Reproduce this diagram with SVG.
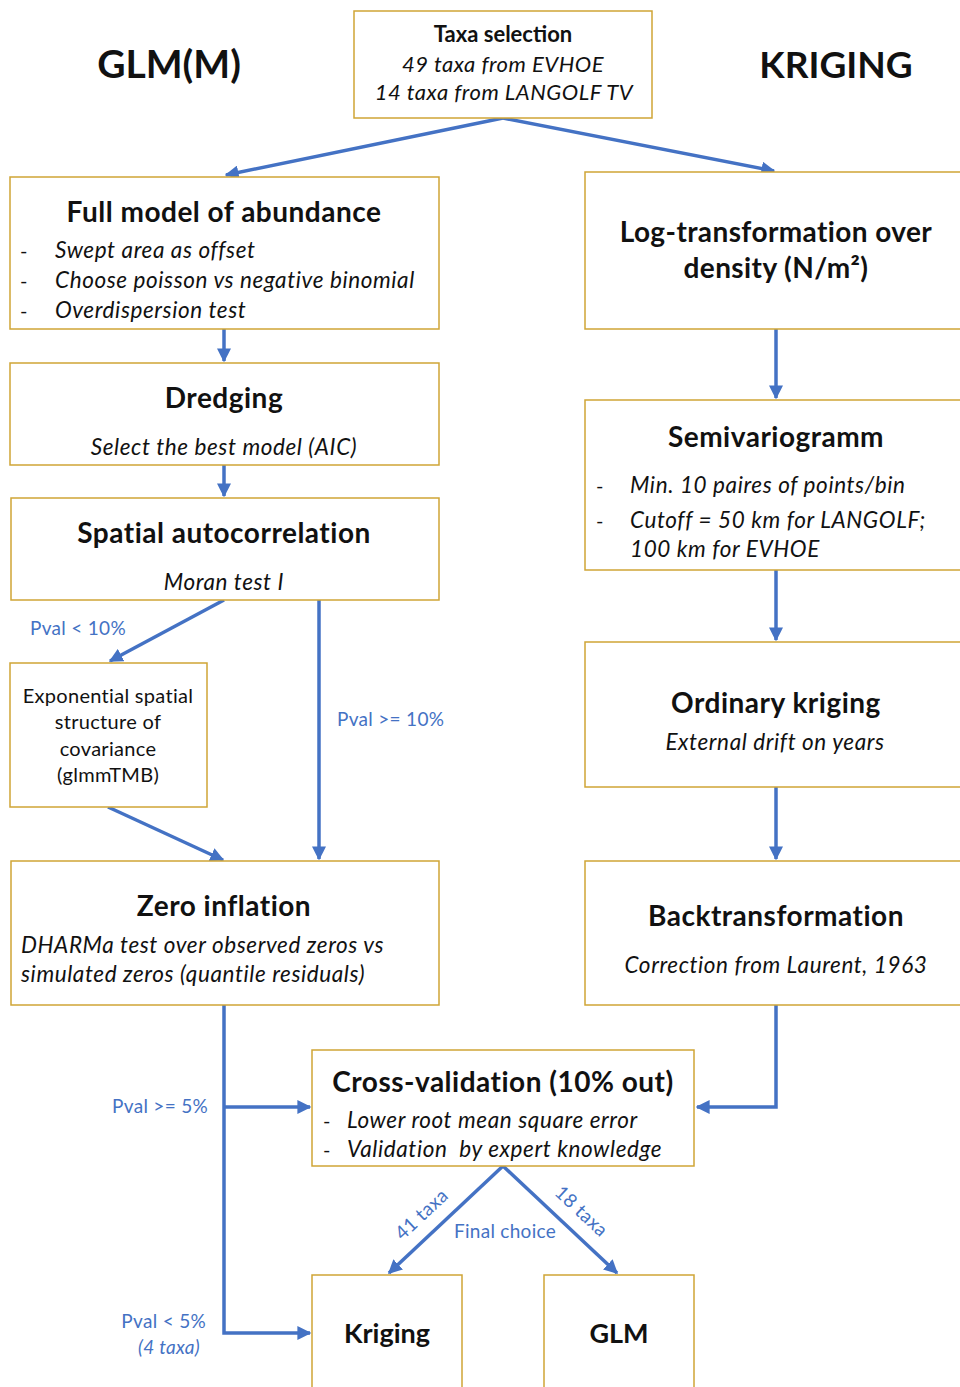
<svg xmlns="http://www.w3.org/2000/svg" width="960" height="1387" viewBox="0 0 960 1387">
<style>
.box{fill:#fff;stroke:#CFA536;stroke-width:1.5}
.t{font-family:Lato,"Open Sans",sans-serif;fill:#111}
.b{font-weight:bold}
.i{font-style:italic}
.c{text-anchor:middle}
.e{text-anchor:end}
.tt{font-size:28px;letter-spacing:0.5px}
.ti{font-size:22.5px;letter-spacing:0.6px}
.d{font-size:20px}
.lbl{font-family:Lato,"Open Sans",sans-serif;fill:#4472C4;font-size:19px;letter-spacing:0.3px}
.con{stroke:#4472C4;stroke-width:3.5;fill:none}
</style>
<defs>
<marker id="ah" viewBox="0 0 10 10" refX="9" refY="5" markerWidth="4" markerHeight="4" orient="auto" markerUnits="strokeWidth">
<path d="M0,0 L10,5 L0,10 z" fill="#4472C4"/>
</marker>
</defs>
<rect width="960" height="1387" fill="#fff"/>
<g id="headers">
<text class="t b c" x="169" y="78" font-size="39">GLM(M)</text>
<text class="t b c" x="836" y="78" font-size="37">KRIGING</text>
</g>
<g id="connectors">
<path class="con" d="M503,118 L226,175" marker-end="url(#ah)"/>
<path class="con" d="M503,118 L774,171" marker-end="url(#ah)"/>
<path class="con" d="M224,329 L224,361" marker-end="url(#ah)"/>
<path class="con" d="M224,465 L224,496" marker-end="url(#ah)"/>
<path class="con" d="M224,600 L110,661" marker-end="url(#ah)"/>
<path class="con" d="M319,600 L319,859" marker-end="url(#ah)"/>
<path class="con" d="M108,807 L223,860" marker-end="url(#ah)"/>
<path class="con" d="M776,329 L776,398" marker-end="url(#ah)"/>
<path class="con" d="M776,570 L776,640" marker-end="url(#ah)"/>
<path class="con" d="M776,787 L776,859" marker-end="url(#ah)"/>
<path class="con" d="M776,1005 L776,1107 L697,1107" marker-end="url(#ah)"/>
<path class="con" d="M224,1005 L224,1333 L310,1333" marker-end="url(#ah)"/>
<path class="con" d="M224,1107 L310,1107" marker-end="url(#ah)"/>
<path class="con" d="M503,1166 L389,1273" marker-end="url(#ah)"/>
<path class="con" d="M503,1166 L617,1273" marker-end="url(#ah)"/>
<text class="lbl" x="30" y="635">Pval &lt; 10%</text>
<text class="lbl" x="337" y="726">Pval &gt;= 10%</text>
<text class="lbl e" x="208" y="1113">Pval &gt;= 5%</text>
<text class="lbl e" x="206" y="1328">Pval &lt; 5%</text>
<text class="lbl e i" x="200" y="1354" font-size="20">(4 taxa)</text>
<text class="lbl c" x="505" y="1238">Final choice</text>
<text class="lbl c" transform="translate(426,1219) rotate(-43)">41 taxa</text>
<text class="lbl c" transform="translate(577,1216) rotate(43)">18 taxa</text>
</g>
<g id="taxa">
<rect class="box" x="354" y="11" width="298" height="107"/>
<text class="t b c" x="503" y="42" font-size="22">Taxa selection</text>
<text class="t i c" x="503" y="72" font-size="22" letter-spacing="0.5">49 taxa from EVHOE</text>
<text class="t i c" x="504" y="100" font-size="22" letter-spacing="0.5">14 taxa from LANGOLF TV</text>
</g>
<g id="fullmodel">
<rect class="box" x="10" y="177" width="429" height="152"/>
<text class="t b c tt" x="224" y="222">Full model of abundance</text>
<text class="t d" x="20" y="258">-</text>
<text class="t i ti" x="55" y="258">Swept area as offset</text>
<text class="t d" x="20" y="288">-</text>
<text class="t i ti" x="55" y="288">Choose poisson vs negative binomial</text>
<text class="t d" x="20" y="318">-</text>
<text class="t i ti" x="55" y="318">Overdispersion test</text>
</g>
<g id="dredging">
<rect class="box" x="10" y="363" width="429" height="102"/>
<text class="t b c tt" x="224" y="408">Dredging</text>
<text class="t i c ti" x="224" y="455">Select the best model (AIC)</text>
</g>
<g id="spatial">
<rect class="box" x="11" y="498" width="428" height="102"/>
<text class="t b c tt" x="224" y="543">Spatial autocorrelation</text>
<text class="t i c ti" x="224" y="590">Moran test I</text>
</g>
<g id="exponential">
<rect class="box" x="10" y="663" width="197" height="144"/>
<text class="t c" x="108" y="703" font-size="20" letter-spacing="0.3">Exponential spatial</text>
<text class="t c" x="108" y="729" font-size="20" letter-spacing="0.3">structure of</text>
<text class="t c" x="108" y="756" font-size="20" letter-spacing="0.3">covariance</text>
<text class="t c" x="108" y="782" font-size="20" letter-spacing="0.3">(glmmTMB)</text>
</g>
<g id="zeroinflation">
<rect class="box" x="11" y="861" width="428" height="144"/>
<text class="t b c tt" x="224" y="916">Zero inflation</text>
<text class="t i ti" x="21" y="953">DHARMa test over observed zeros vs</text>
<text class="t i ti" x="21" y="982">simulated zeros (quantile residuals)</text>
</g>
<g id="logtransform">
<rect class="box" x="585" y="172" width="390" height="157"/>
<text class="t b c" x="776" y="242" font-size="28" letter-spacing="0.4">Log-transformation over</text>
<text class="t b c" x="776" y="278" font-size="28" letter-spacing="0.4">density (N/m²)</text>
</g>
<g id="semivariogramm">
<rect class="box" x="585" y="400" width="390" height="170"/>
<text class="t b c tt" x="776" y="447">Semivariogramm</text>
<text class="t d" x="596" y="493">-</text>
<text class="t i ti" x="630" y="493">Min. 10 paires of points/bin</text>
<text class="t d" x="596" y="528">-</text>
<text class="t i ti" x="630" y="528">Cutoff = 50 km for LANGOLF;</text>
<text class="t i ti" x="630" y="557">100 km for EVHOE</text>
</g>
<g id="ordinarykriging">
<rect class="box" x="585" y="642" width="390" height="145"/>
<text class="t b c tt" x="776" y="713">Ordinary kriging</text>
<text class="t i c ti" x="775" y="750">External drift on years</text>
</g>
<g id="backtransformation">
<rect class="box" x="585" y="861" width="390" height="144"/>
<text class="t b c tt" x="776" y="926">Backtransformation</text>
<text class="t i c ti" x="776" y="973">Correction from Laurent, 1963</text>
</g>
<g id="crossvalidation">
<rect class="box" x="312" y="1050" width="382" height="116"/>
<text class="t b c tt" x="503" y="1092">Cross-validation (10% out)</text>
<text class="t d" x="323" y="1128">-</text>
<text class="t i ti" x="347" y="1128">Lower root mean square error</text>
<text class="t d" x="323" y="1157">-</text>
<text class="t i ti" x="347" y="1157">Validation&#160; by expert knowledge</text>
</g>
<g id="kriging">
<rect class="box" x="312" y="1275" width="150" height="130"/>
<text class="t b c" x="387" y="1343" font-size="27">Kriging</text>
</g>
<g id="glm">
<rect class="box" x="544" y="1275" width="150" height="130"/>
<text class="t b c" x="619" y="1343" font-size="27">GLM</text>
</g>
</svg>
